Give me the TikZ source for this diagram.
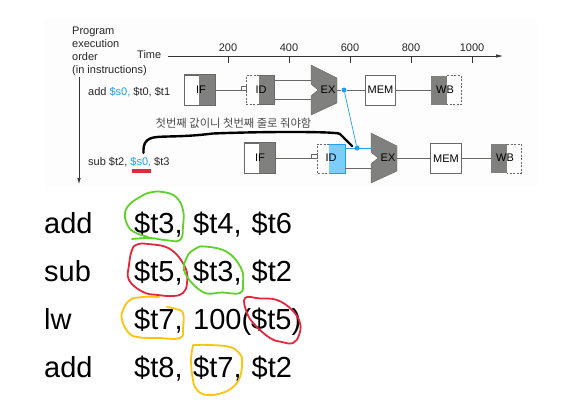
\documentclass[tikz,border=0pt]{standalone}
\usepackage{fontspec}
\setmainfont{Liberation Sans}
\newfontfamily\cjk{Noto Sans CJK KR}
\usetikzlibrary{arrows.meta}
\definecolor{stagegray}{RGB}{128,128,126}
\definecolor{linegray}{RGB}{105,105,103}
\definecolor{hiblue}{RGB}{30,160,240}
\definecolor{idblue}{RGB}{125,205,250}
\definecolor{penred}{RGB}{225,40,60}
\definecolor{pengreen}{RGB}{95,210,40}
\definecolor{penyellow}{RGB}{255,195,15}
\tikzset{
 x=1pt,y=-1pt,
 small/.style={font=\fontsize{11}{13}\selectfont,inner sep=0pt,text=black!85},
 stagetext/.style={font=\fontsize{11}{13}\selectfont,inner sep=0pt,text=black},
 big/.style={font=\fontsize{29}{34}\selectfont,inner sep=0pt,anchor=base west},
 stagebox/.style={draw=linegray,line width=.7pt,fill=white,minimum width=#1,minimum height=30pt,inner sep=0pt,stagetext},
 stagebox/.default=30.5pt,
 ghostbox/.style={minimum width=#1,minimum height=29pt,inner sep=0pt},
 wire/.style={draw=linegray,line width=.7pt},
 thin box/.style={line width=.5pt,draw=linegray},
 dashbox/.style={line width=.5pt,draw=linegray,dash pattern=on 2pt off 1.5pt},
 pen/.style={line width=1.8pt,line cap=round,line join=round},
 fwd/.style={draw=hiblue,line width=.7pt},
 dotn/.style={circle,fill=hiblue,inner sep=0pt,minimum size=5pt},
 axis/.style={draw=black!80,line width=.6pt},
}
\newcommand{\alu}[3]{% x,y,name
 \path[fill=stagegray,draw=stagegray!80!black,line width=.4pt] (#1,#2-25) -- (#1+26,#2-12) -- (#1+26,#2+13) -- (#1,#2+25) -- (#1,#2+6) -- (#1+7,#2) -- (#1,#2-6) -- cycle;
 \node[stagetext] (#3) at (#1+17,#2) {EX};
}
\begin{document}
\begin{tikzpicture}
\useasboundingbox (0,0) rectangle (585,415);
\fill[white] (0,0) rectangle (585,415);
\fill[black!.6] (44,18) rectangle (538,187);
% headers
\node[small,anchor=north west,align=left] (prog) at (72,26.5) {Program\\execution\\order\\(in instructions)};
\node[small,anchor=west] (time) at (137,55) {Time};
\coordinate (ts) at (168,56);
\coordinate (te) at (503,56);
\draw[axis,-{Latex[length=7pt,width=3.5pt]}] (ts) -- (te);
\foreach \x/\l in {228/200,289/400,350/600,411/800,472/1000}{
 \draw[axis] (\x,56) -- (\x,63);
 \node[small] (t\l) at (\x,48) {\l};
}
\coordinate (os) at (79,77);
\coordinate (oe) at (79,184);
\draw[axis,-{Latex[length=6pt,width=3.5pt]}] (os) -- (oe);
% instruction labels
\node[small,anchor=west] (i1) at (88,92) {add \textcolor{hiblue}{\$s0,} \$t0, \$t1};
\node[small,anchor=west] (i2) at (88,162) {sub \$t2, \textcolor{hiblue}{\$s0,} \$t3};
\fill[penred] (132,169) rectangle (151,172.5);
% row 1
\node[stagebox] (if1) at (199.5,90) {};
\fill[stagegray] (198.5,75) rectangle (215,105);
\draw[wire] (if1.north west) rectangle (if1.south east);
\node[stagetext] (if1t) at (201,90) {IF};
\node[ghostbox=28.5pt] (id1) at (260.25,90) {};
\fill[stagegray] (259,75.5) rectangle (274.5,104.5);
\draw[dashbox] (259,75.5) -- (246,75.5) -- (246,104.5) -- (259,104.5);
\draw[thin box] (259,75.5) -- (274.5,75.5) -- (274.5,104.5) -- (259,104.5);
\node[stagetext] (id1t) at (261,90) {ID};
\draw[wire] (if1.east) -- (id1.west);
\draw[thin box] (241,86) rectangle (246,90);
\alu{311}{90}{ex1}
\coordinate (a1u) at (311,80);
\coordinate (a1l) at (311,99);
\draw[wire] (id1.east |- a1u) -- (a1u);
\draw[wire] (id1.east |- a1l) -- (a1l);
\node[stagebox] (mem1) at (380.5,90) {MEM};
\node[dotn] (d1) at (344,90) {};
\draw[wire] (d1) -- (mem1);
\coordinate (ex1r) at (337,90);
\draw[wire] (ex1r) -- (d1);
\node[ghostbox=30pt] (wb1) at (446,90) {};
\fill[stagegray] (431,75.5) rectangle (447,104.5);
\draw[dashbox] (447,75.5) -- (461,75.5) -- (461,104.5) -- (447,104.5);
\node[stagetext] (wb1t) at (445,90) {WB};
\draw[wire] (mem1) -- (wb1);
% row 2
\node[stagebox] (if2) at (260,158) {};
\fill[stagegray] (259,143) rectangle (275.25,173);
\draw[wire] (if2.north west) rectangle (if2.south east);
\node[stagetext] (if2t) at (260,158) {IF};
\node[ghostbox=28pt] (id2) at (331,158.5) {};
\fill[idblue] (329,144) rectangle (345,173);
\draw[dashbox] (329,144) -- (317,144) -- (317,173) -- (329,173);
\draw[line width=.5pt,draw=hiblue] (329,144) -- (345,144) -- (345,173) -- (329,173);
\node[stagetext] (id2t) at (331,158) {ID};
\draw[wire] (if2.east) -- (id2.west |- if2);
\draw[thin box] (311,154) rectangle (317,158);
\alu{371}{158}{ex2}
\coordinate (a2u) at (371,148);
\coordinate (a2l) at (371,168);
\coordinate (ex2r) at (397,158);
\draw[wire] (345,168) -- (a2l);
\node[stagebox] (mem2) at (446,158.5) {MEM};
\draw[wire] (ex2r) -- (mem2.west |- ex2r);
\node[ghostbox=30pt] (wb2) at (506,158.5) {};
\fill[stagegray] (491,144) rectangle (507,173);
\draw[dashbox] (507,144) -- (521,144) -- (521,173) -- (507,173);
\node[stagetext] (wb2t) at (505,158) {WB};
\draw[wire] (mem2) -- (wb2);
% forwarding
\node[dotn] (d2) at (357,148) {};
\draw[fwd] (d1) -- (d2);
\draw[fwd] (345,148) -- (a2u);
% korean
\node[inner sep=0pt,font=\cjk\fontsize{11.3}{13}\selectfont,text=black!70] (ko) at (233.5,123) {첫번째 값이니 첫번째 줄로 줘야함};
% black curve
\draw[line width=2.4pt,line cap=round,line join=round] (143.5,153) .. controls (143,143) and (146,138) .. (157,137) .. controls (170,136) and (185,137) .. (213,133.5) .. controls (250,132) and (300,131.5) .. (327,132.5) .. controls (335,133) and (338,133) .. (340,134) -- (352,146);
% big text
\node[big] (a1) at (44,233) {add};
\node[big] (b1) at (134,233) {\$t3,};
\node[big] (c1) at (193,233) {\$t4,};
\node[big] (e1) at (251.5,233) {\$t6};
\node[big] (a2) at (44,281) {sub};
\node[big] (b2) at (134,281) {\$t5,};
\node[big] (c2) at (193,281) {\$t3,};
\node[big] (e2) at (251.5,281) {\$t2};
\node[big] (a3) at (44,329) {lw};
\node[big] (b3) at (134,329) {\$t7,};
\node[big] (c3) at (193,329) {100(\$t5)};
\node[big] (a4) at (44,377) {add};
\node[big] (b4) at (134,377) {\$t8,};
\node[big] (c4) at (193,377) {\$t7,};
\node[big] (e4) at (251.5,377) {\$t2};
% circles
\draw[pen,pengreen] plot[smooth,tension=.7] coordinates {(132,239) (150,238) (165,240) (180,240) (183,226) (183,210) (176,197) (163,192) (150,192.5) (140,197) (130,204) (125,213) (127,224) (134,232) (148,237)};
\draw[pen,penred] plot[smooth cycle,tension=.7] coordinates {(148,244) (137,244.5) (132,250) (129,265) (129,280) (143,292) (158,295) (173,296) (183,293) (187,283) (185,267) (170,249)};
\draw[pen,pengreen] plot[smooth cycle,tension=.7] coordinates {(205,246.5) (195,249) (187,257) (185,273) (203,292) (222,292.5) (240,293) (243,283) (241,268) (227,252)};
\draw[pen,penyellow] plot[smooth,tension=.7] coordinates {(159,297) (143,297) (130,300) (123,310) (122,320) (128,332) (137,337) (158,338) (180,338) (183,328) (183,313) (176,309) (167,307)};
\draw[pen,penred] plot[smooth cycle,tension=.7] coordinates {(245,298) (260,298.5) (277,300) (292,310) (300,323) (299,335) (293,343) (282,342) (270,338) (255,325) (247,313)};
\draw[pen,penyellow] plot[smooth,tension=.7] coordinates {(193,345) (210,345) (230,347) (240,354) (242,362) (240,377) (233,387) (222,393) (207,395) (197,390) (193,380) (191,360) (193,346)};
\end{tikzpicture}
\end{document}
